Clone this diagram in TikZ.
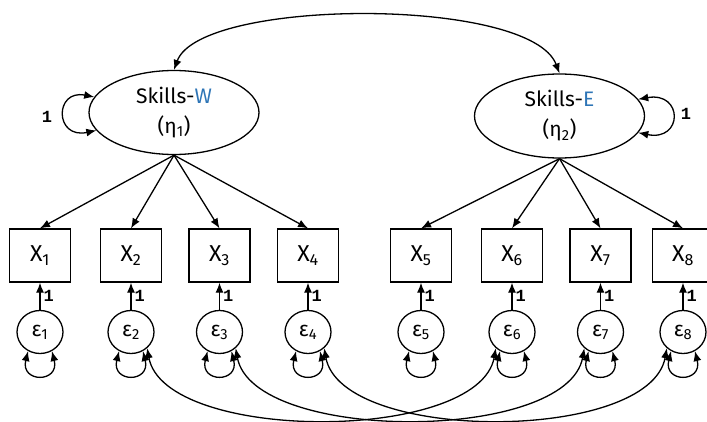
\documentclass[tikz,border=0pt]{standalone}
\usepackage{fontspec}
\setmainfont{Fira Sans}
\newfontfamily\onefont{Liberation Mono}
\usetikzlibrary{arrows.meta, shapes.geometric}
\definecolor{skillblue}{RGB}{46,117,182}

\begin{document}
\begin{tikzpicture}[
    x = 1pt, y = -1pt,
    line width = 1.3pt,
    >={Latex[length=10pt, width=8pt]},
    latent/.style = {
      ellipse, draw,
      minimum width = 170pt,
      minimum height = 84pt,
      inner sep = 0,
      align = center,
      font = \fontsize{21}{30}\selectfont,
    },
    observed/.style = {
      rectangle, draw,
      minimum width = 61pt,
      minimum height = 53pt,
      font = \fontsize{23}{24}\selectfont,
    },
    residual/.style = {
      ellipse, draw,
      minimum width = 46pt,
      minimum height = 43pt,
      inner sep = 0,
      font = \fontsize{21}{22}\selectfont,
    },
    one/.style = {
      inner sep = 3pt,
      font = \onefont\bfseries\fontsize{17}{17}\selectfont,
    },
  ]
  \useasboundingbox (0,0) rectangle (707,422);
  \clip (0,0) rectangle (707,422);

  % latent factors
  \node[latent] (sw) at (174,112.5) {Skills-\textcolor{skillblue}{W}\\(η\textsubscript{1})};
  \node[latent] (se) at (559.5,116) {Skills-\textcolor{skillblue}{E}\\(η\textsubscript{2})};

  \draw[<->] (sw.north) .. controls +(26,-72) and +(-29,-77) .. (se.north);
  \draw[<->] (sw.169) .. controls +(-40,-8) and +(-42,9) .. (sw.193);
  \draw[<->] (se.12) .. controls +(45,-8) and +(45,9) .. (se.-12);
  \node[one] (vw) at (47,117) {1};
  \node[one] (ve) at (686,114) {1};

  % indicators and residuals
  \foreach \i/\x/\f in {
    1/40/sw, 2/131/sw, 3/219.5/sw, 4/308/sw,
    5/421/se, 6/512/se, 7/600.5/se, 8/683/se}{
    \node[observed] (x\i) at (\x,255.5) {X\textsubscript{\i}};
    \node[residual] (r\i) at (\x,332) {ε\textsubscript{\i}};
    \draw[->] (\f.south) -- (x\i.north);
    \draw[->] (r\i) -- (x\i)
      node[one, midway, right] {1};
    \draw[<->] (r\i.-122) .. controls +(-8,32) and +(8,32) .. (r\i.-58);
  }

  % correlated residuals
  \foreach \a/\b in {2/6, 3/7, 4/8} {
    \draw[<->] (r\a.-45) .. controls +(17,95) and +(-17,95) .. (r\b.-135);
  }
\end{tikzpicture}
\end{document}
